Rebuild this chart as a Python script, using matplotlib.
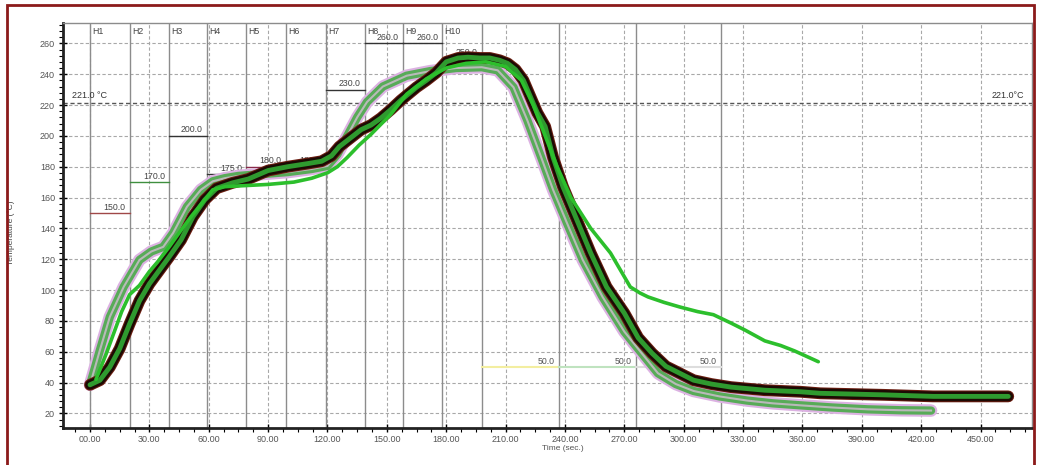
import matplotlib
matplotlib.use("Agg")
import matplotlib.pyplot as plt
from matplotlib.patches import Rectangle
from matplotlib.ticker import MultipleLocator, FuncFormatter

plt.rcParams['font.family'] = ['Liberation Sans', 'DejaVu Sans']

# profile curves (time in s, temperature in deg C)
profile_a_t = [0, 5, 10, 15, 20, 25, 30, 34, 40, 46, 52, 58, 64, 72, 80, 90, 100, 110, 117, 122,
               126, 131, 137, 142, 147, 152, 157, 165, 170, 175, 180, 186, 191, 197, 202, 207, 211, 215, 219, 223,
               226, 230, 234, 239, 246, 253, 261, 270, 277, 284, 291, 298, 305, 314, 324, 341, 359, 369, 385, 401,
               426, 445, 464]
profile_a_v = [38.5, 41.5, 50, 62, 78, 93, 104, 111, 121.5, 132.5, 147.5, 158.5, 166, 169.5, 172, 177.5, 180, 182, 183.5, 187,
               193, 198, 204, 207, 211.5, 217, 223, 231.5, 236, 241, 248, 250.5, 251, 250.5, 250.5, 249, 247, 243, 236, 224,
               215, 206, 186, 167, 145.5, 124, 102, 85, 69, 59, 50.5, 46, 41.5, 39, 37, 35, 34, 33, 32.5, 32,
               31, 31, 31]

profile_b_t = [0, 5, 10, 17, 25, 31, 37, 42, 49, 56, 62, 68, 75, 85, 100, 112, 120, 125, 130, 135,
               140, 148, 160, 172, 185, 198, 206, 214, 221, 228, 234, 241, 249, 259, 270, 275, 287, 296, 305, 318,
               332, 345, 359, 375, 393, 410, 425]
profile_b_v = [38.5, 61, 82.5, 102, 119.5, 125, 128, 137, 154, 165, 170.5, 172.5, 174, 175, 176.5, 178.5, 180.5, 188, 200, 212,
               222, 232, 239, 242, 244, 244.5, 242.5, 231.5, 210, 186, 165, 143.5, 119.5, 95.5, 73, 65, 46, 39, 34.5, 31,
               28.3, 26.5, 25.2, 23.8, 22.6, 22, 21.8]

profile_c_t = [3, 8, 12, 16, 20, 25, 30, 34, 40, 45, 51, 57, 62, 68, 75, 90, 103, 112, 120, 125,
               130, 136, 142, 152, 160, 170, 180, 190, 200, 210, 218, 224, 230, 236, 243, 248, 253, 258, 263, 268,
               273, 278, 282, 290, 298, 307, 315, 324, 331, 341, 349, 356, 362, 368]
profile_c_v = [42, 58, 72, 86, 97, 103, 112, 118, 128, 137, 147.5, 157, 165, 167, 167.5, 168.5, 170, 172.5, 176, 180,
               186, 194, 201, 214, 227, 237, 244, 247, 248, 245, 236, 220, 200, 180, 160, 150, 140, 132, 124, 113,
               102, 98, 95.5, 92, 89, 86, 84, 78.5, 74, 67, 64, 60.5, 57, 53.5]

# oven zones
zone_names = ['H1', 'H2', 'H3', 'H4', 'H5', 'H6', 'H7', 'H8', 'H9', 'H10']
zone_edges = [0, 20, 40, 59, 79, 99, 119, 139, 158, 178, 198]
zone_setpoints = [150.0, 170.0, 200.0, 175.0, 180.0, 180.0, 230.0, 260.0, 260.0, 250.0]
zone_colors = ['#a04848', '#3f8f3f', '#333333', '#333333', '#8a2a4a', '#8a2a4a', '#333333', '#333333', '#333333', '#333333']
cool_edges = [198, 237, 276, 319]
cool_setpoints = [50.0, 50.0, 50.0]
cool_colors = ['#f3eea0', '#bfe3bf', '#dddddd']
liquidus = 221.0

fig = plt.figure(figsize=(10.39, 4.65), dpi=100)
ax = fig.add_axes([63.3 / 1039, 1 - 428.3 / 465, (1032 - 63.3) / 1039, (428.3 - 23.3) / 465])
ax.set_xlim(-13.5, 476)
ax.set_ylim(10.3, 273)

# grid
ax.set_xticks(range(0, 451, 30))
ax.set_yticks(range(20, 261, 20))
ax.xaxis.set_minor_locator(MultipleLocator(7.5))
ax.yaxis.set_minor_locator(MultipleLocator(4))
ax.grid(True, which='major', color='#a8a8a8', linestyle=(0, (3, 2)), linewidth=0.8)
ax.set_axisbelow(True)

# zone boundaries
for e in zone_edges + cool_edges[1:]:
    ax.axvline(e, color='#8c8c8c', linewidth=1.0, zorder=1)
for name, e in zip(zone_names, zone_edges):
    ax.text(e + 1.2, 268, name, fontsize=6.3, color='#444444', va='center', ha='left', zorder=2)

# set points
for i in range(len(zone_setpoints)):
    x0, x1 = zone_edges[i], zone_edges[i + 1]
    ax.plot([x0, x1], [zone_setpoints[i]] * 2, color=zone_colors[i], linewidth=1.0, zorder=2)
    ax.annotate('%.1f' % zone_setpoints[i], (x1, zone_setpoints[i]), xytext=(-3, 1),
                textcoords='offset points', ha='right', va='bottom', fontsize=6.3, color='#444444', zorder=2)
for i in range(len(cool_setpoints)):
    x0, x1 = cool_edges[i], cool_edges[i + 1]
    ax.plot([x0, x1], [cool_setpoints[i]] * 2, color=cool_colors[i], linewidth=1.5, zorder=2)
    ax.annotate('%.1f' % cool_setpoints[i], (x1, cool_setpoints[i]), xytext=(-3, 1),
                textcoords='offset points', ha='right', va='bottom', fontsize=6.3, color='#555555', zorder=2)

# liquidus line
ax.axhline(liquidus, color='#555555', linestyle=(0, (3, 2)), linewidth=1.0, zorder=1)
ax.text(-9, liquidus + 2, '%.1f °C' % liquidus, fontsize=6.5, color='#333333', va='bottom', ha='left')
ax.text(472, liquidus + 2, '%.1f°C' % liquidus, fontsize=6.5, color='#333333', va='bottom', ha='right')

# curve B: lilac halo, green body, grey centre
ax.plot(profile_b_t, profile_b_v, color='#dcb2e2', linewidth=9, solid_capstyle='round', zorder=3)
ax.plot(profile_b_t, profile_b_v, color='#58ab58', linewidth=6, solid_capstyle='round', zorder=3)
ax.plot(profile_b_t, profile_b_v, color='#b9b9b9', linewidth=1.5, zorder=3)

# curve A: dark outline, green core
ax.plot(profile_a_t, profile_a_v, color='#6a1c10', linewidth=8.5, solid_capstyle='round', zorder=4)
ax.plot(profile_a_t, profile_a_v, color='#1c0a04', linewidth=7, solid_capstyle='round', zorder=4)
ax.plot(profile_a_t, profile_a_v, color='#2f9a2f', linewidth=3.5, solid_capstyle='round', zorder=4)

# curve C: thin bright green
ax.plot(profile_c_t, profile_c_v, color='#2cbf2c', linewidth=2.6, solid_capstyle='round', zorder=5)

# axes styling
for s in ['left', 'bottom']:
    ax.spines[s].set_linewidth(2)
    ax.spines[s].set_color('#222222')
for s in ['top', 'right']:
    ax.spines[s].set_linewidth(1)
    ax.spines[s].set_color('#8c8c8c')
ax.xaxis.set_major_formatter(FuncFormatter(lambda v, p: '%05.2f' % v))
ax.tick_params(which='major', direction='inout', length=6, width=1, labelsize=6.5, labelcolor='#555555', pad=3)
ax.tick_params(axis='x', which='major', pad=2)
ax.tick_params(which='minor', direction='out', length=3, width=0.8)

ax.set_xlabel('Time (sec.)', fontsize=6, color='#555555')
ax.xaxis.set_label_coords(0.516, -0.042)
ax.set_ylabel('Temperature (°C)', fontsize=6, color='#444444')
ax.yaxis.set_label_coords(-0.05, 0.482)

# red frame around the picture
fig.add_artist(Rectangle((7 / 1039, -0.05), (1034 - 7) / 1039, 1.05 - 5 / 465, transform=fig.transFigure,
                         fill=False, edgecolor='#8b1a1a', linewidth=2))

fig.savefig('out.png', dpi=100)
